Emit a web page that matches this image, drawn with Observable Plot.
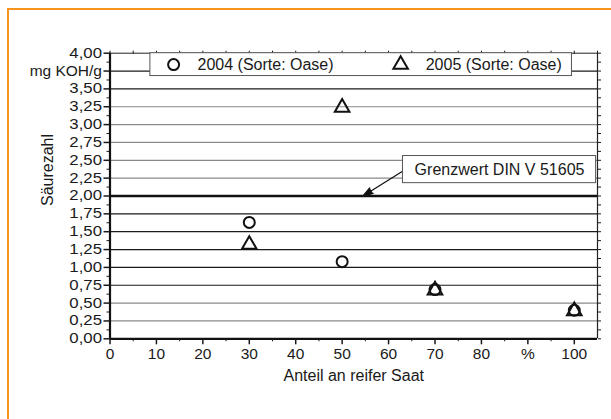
<!DOCTYPE html>
<html>
<head>
<meta charset="utf-8">
<script src="https://cdn.jsdelivr.net/npm/d3@7"></script>
<script src="https://cdn.jsdelivr.net/npm/@observablehq/plot@0.6"></script>
<style>
  html, body { margin: 0; padding: 0; background: #fff; overflow: hidden; }
  #wrap { position: relative; width: 611px; height: 419px; overflow: hidden; }
  #frame { position: absolute; left: 7px; top: 8px; width: 700px; height: 600px;
           border: 2.5px solid #f7941d; box-sizing: border-box; pointer-events: none; }
  #wrap svg text { font-family: "Liberation Sans", Arial, sans-serif; font-size: 16px; }
  #wrap svg g[aria-label="x-axis tick label"] text { font-size: 15.5px; }
  #wrap svg g[aria-label="y-axis tick label"] text { font-size: 14px; }
  #wrap svg g[aria-label="y-axis tick label"] text.unit { font-size: 15.5px; }
</style>
</head>
<body>
<div id="wrap"><div id="frame"></div></div>
<script>
// ---- data ----
const reife = [30, 50, 70, 100];               // Anteil an reifer Saat (%)
const saeure2004 = [1.63, 1.08, 0.69, 0.40];   // Säurezahl 2004 (Sorte: Oase)
const saeure2005 = [1.32, 3.24, 0.68, 0.39];   // Säurezahl 2005 (Sorte: Oase)
const seriesNames = ["2004 (Sorte: Oase)", "2005 (Sorte: Oase)"];
const grenzwert = 2.0;
const grenzLabel = "Grenzwert DIN V 51605";
const xTicks = [0, 10, 20, 30, 40, 50, 60, 70, 80, 90, 100];
const xTickLabels = ["0", "10", "20", "30", "40", "50", "60", "70", "80", "%", "100"];
const yTicks = [0, 0.25, 0.5, 0.75, 1, 1.25, 1.5, 1.75, 2, 2.25, 2.5, 2.75, 3, 3.25, 3.5, 3.75, 4];
const yTickLabels = ["0,00", "0,25", "0,50", "0,75", "1,00", "1,25", "1,50", "1,75", "2,00",
                     "2,25", "2,50", "2,75", "3,00", "3,25", "3,50", "mg KOH/g", "4,00"];
const xLabel = "Anteil an reifer Saat";
const yLabel = "Säurezahl";

// ---- build ----
const pts2004 = reife.map((x, i) => ({x, y: saeure2004[i]}));
const pts2005 = reife.map((x, i) => ({x, y: saeure2005[i]}));
const xLab = new Map(xTicks.map((t, i) => [t, xTickLabels[i]]));
const yLab = new Map(yTicks.map((t, i) => [t, yTickLabels[i]]));
const darkGrid = new Set([3.75, 3.5, 1.75, 1.5, 1.25, 1, 0.75]);
const gridVals = yTicks.filter(v => v > 0 && v < 4 && v !== grenzwert);

// annotation layout (data coordinates)
const legendBox = [{x1: 8.7, x2: 99.5, y1: 3.68, y2: 4}];
const legendText = [
  {x: 18.85, y: 3.83, name: seriesNames[0]},
  {x: 68.0, y: 3.83, name: seriesNames[1]}
];
const legendCircle = [{x: 13.7, y: 3.84}];
const legendTriangle = [{x: 62.6, y: 3.84}];
const grenzBox = [{x1: 63.1, x2: 104.7, y1: 2.18, y2: 2.56}];
const grenzArrow = [{x1: 63.1, y1: 2.35, x2: 54.5, y2: grenzwert}];

const minorY = d3.range(0.125, 4, 0.25);
const minorX = d3.range(5, 105, 10);
const topX = d3.range(0, 106, 5);
const rightY = d3.range(0, 4.01, 0.125);

const chart = Plot.plot({
  width: 611,
  height: 419,
  marginLeft: 109.5,
  marginRight: 14,
  marginTop: 52.7,
  marginBottom: 80.7,
  style: {fontFamily: "Liberation Sans, Arial, sans-serif", fontSize: "16px", color: "#1a1a1a", background: "transparent"},
  x: {domain: [0, 105]},
  y: {domain: [0, 4]},
  marks: [
    Plot.ruleY(gridVals, {stroke: d => darkGrid.has(d) ? "#1a1a1a" : "#8a8a8a", strokeWidth: 1.2}),
    Plot.ruleY([grenzwert], {stroke: "#111", strokeWidth: 2.5}),
    Plot.ruleY([4], {stroke: "#222", strokeWidth: 1}),
    Plot.ruleX([105], {stroke: "#222", strokeWidth: 1.2}),
    Plot.ruleX([0], {stroke: "#111", strokeWidth: 2.2}),
    Plot.ruleY([0], {stroke: "#111", strokeWidth: 2.2}),
    // axes
    Plot.axisX({ticks: xTicks, tickFormat: d => xLab.get(d), tickSize: 6, tickPadding: 3,
                strokeWidth: 1.5, fontSize: 15.5,
                label: xLabel, labelAnchor: "center", labelOffset: 42, labelArrow: "none"}),
    Plot.axisX({ticks: minorX, tickFormat: () => "", tickSize: 3, label: null}),
    Plot.axisX({anchor: "top", ticks: topX, tickFormat: () => "", tickSize: 3, label: null}),
    Plot.axisY({ticks: yTicks, tickFormat: d => yLab.get(d), tickSize: 6, tickPadding: 2,
                strokeWidth: 1.5, fontSize: 14, label: null}),
    Plot.axisY({ticks: minorY, tickFormat: () => "", tickSize: 3, label: null}),
    Plot.axisY({anchor: "right", ticks: rightY, tickFormat: () => "", tickSize: 3, label: null}),
    Plot.text([yLabel], {frameAnchor: "left", text: d => d, rotate: -90, dx: -62, dy: 10, fontSize: 16, fill: "#1a1a1a"}),
    // Grenzwert annotation
    Plot.arrow(grenzArrow, {x1: "x1", y1: "y1", x2: "x2", y2: "y2", stroke: "#111", fill: "#111",
                            strokeWidth: 1.3, headLength: 12, headAngle: 36}),
    Plot.rect(grenzBox, {x1: "x1", x2: "x2", y1: "y1", y2: "y2", fill: "white", stroke: "#555", strokeWidth: 1}),
    Plot.text([grenzLabel], {x: (grenzBox[0].x1 + grenzBox[0].x2) / 2, y: (grenzBox[0].y1 + grenzBox[0].y2) / 2,
                             text: d => d, fontSize: 16, fill: "#1a1a1a"}),
    // legend
    Plot.rect(legendBox, {x1: "x1", x2: "x2", y1: "y1", y2: "y2", fill: "white", stroke: "#555", strokeWidth: 1}),
    Plot.dot(legendCircle, {x: "x", y: "y", symbol: "circle", r: 5.5, stroke: "#111", strokeWidth: 2, fill: "none"}),
    Plot.dot(legendTriangle, {x: "x", y: "y", symbol: "triangle", r: 5.4, stroke: "#111", strokeWidth: 2, fill: "none"}),
    Plot.text(legendText, {x: "x", y: "y", text: "name", textAnchor: "start", fontSize: 16, fill: "#1a1a1a"}),
    // data
    Plot.dot(pts2004, {x: "x", y: "y", symbol: "circle", r: 5.5, stroke: "#111", strokeWidth: 2, fill: "none"}),
    Plot.dot(pts2005, {x: "x", y: "y", symbol: "triangle", r: 5.4, stroke: "#111", strokeWidth: 2, fill: "none"})
  ]
});
document.getElementById("wrap").prepend(chart);

// widen the numeric y tick labels (wide digits in the original)
chart.querySelectorAll('g[aria-label="y-axis tick label"] text').forEach(t => {
  if (/^\d/.test(t.textContent)) {
    const tr = t.getAttribute("transform");
    if (tr) t.setAttribute("transform", tr + " scale(1.2,1)");
  } else {
    t.classList.add("unit");
  }
});
// filled arrow head
chart.querySelectorAll('g[aria-label="arrow"] path').forEach(p => p.setAttribute("fill", "#111"));
</script>
</body>
</html>
